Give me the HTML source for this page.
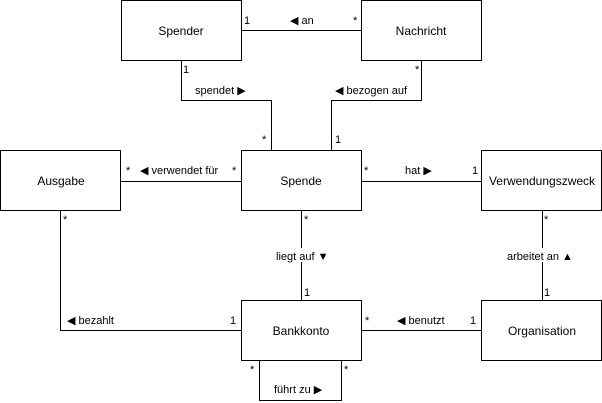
<!DOCTYPE html>
<html><head><meta charset="utf-8"><style>
body{margin:0;background:#fff}
svg{display:block;font-family:"Liberation Sans",Arial,sans-serif;font-size:11px}
.b{fill:#fff;stroke:#000;stroke-width:1}
.l{fill:none;stroke:#000;stroke-width:1}
.n{font-size:12px}
</style></head><body>
<svg width="602" height="403" viewBox="0 0 602 403">
<g class="l">
<path d="M241 30.5H361"/>
<path d="M181.5 61V100.5H271.5V151"/>
<path d="M421.5 61V100.5H331.5V151"/>
<path d="M121 181.5H241"/>
<path d="M361 181.5H481"/>
<path d="M60.5 211V330.5H241"/>
<path d="M301.5 211V301"/>
<path d="M542.5 211V301"/>
<path d="M361 330.5H481"/>
<path d="M259.5 361V400.5H341.5V361"/>
</g>
<rect x="274" y="248" width="58" height="14" fill="#fff"/>
<rect x="505" y="248" width="72" height="14" fill="#fff"/>
<rect class="b" x="121.5" y="0.5" width="120" height="60"/>
<rect class="b" x="361.5" y="0.5" width="120" height="60"/>
<rect class="b" x="0.5" y="150.5" width="120" height="60"/>
<rect class="b" x="241.5" y="150.5" width="120" height="60"/>
<rect class="b" x="481.5" y="150.5" width="120" height="60"/>
<rect class="b" x="241.5" y="300.5" width="120" height="60"/>
<rect class="b" x="481.5" y="300.5" width="120" height="60"/>
<g class="n" text-anchor="middle">
<text x="181" y="35">Spender</text>
<text x="421" y="35">Nachricht</text>
<text x="61" y="185">Ausgabe</text>
<text x="301" y="185">Spende</text>
<text x="542" y="185">Verwendungszweck</text>
<text x="301" y="335">Bankkonto</text>
<text x="542" y="335">Organisation</text>
</g>
<g>
<text x="244" y="24">1</text><text x="353" y="24">*</text>
<text x="290" y="24">◀ an</text>
<text x="183" y="73">1</text><text x="415" y="73">*</text>
<text x="195" y="94">spendet ▶</text>
<text x="335" y="94">◀ bezogen auf</text>
<text x="262" y="143">*</text><text x="335" y="143">1</text>
<text x="126" y="174">*</text><text x="232" y="174">*</text>
<text x="140" y="174">◀ verwendet für</text>
<text x="364" y="174">*</text><text x="472" y="174">1</text>
<text x="405" y="174">hat ▶</text>
<text x="63" y="223">*</text><text x="304" y="223">*</text><text x="544" y="223">*</text>
<text x="276" y="260">liegt auf ▼</text>
<text x="507" y="260">arbeitet an ▲</text>
<text x="304" y="296">1</text><text x="544" y="296">1</text>
<text x="67" y="324">◀ bezahlt</text>
<text x="230" y="324">1</text>
<text x="365" y="324">*</text>
<text x="397" y="324">◀ benutzt</text>
<text x="470" y="324">1</text>
<text x="250" y="373">*</text><text x="344" y="373">*</text>
<text x="274" y="393">führt zu ▶</text>
</g>
</svg>
</body></html>
